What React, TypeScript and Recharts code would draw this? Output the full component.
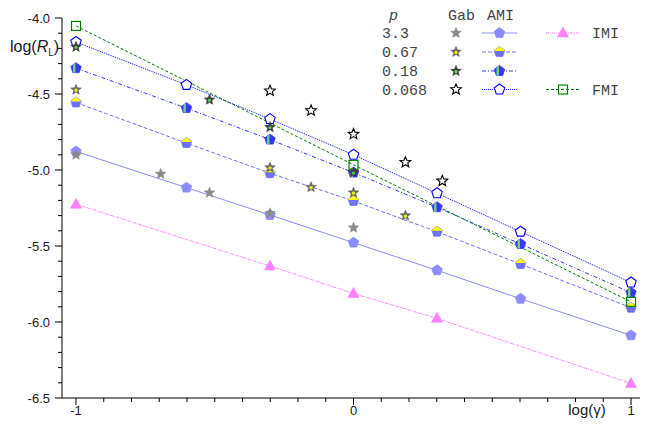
import React from 'react';
import { ComposedChart, Line, Scatter, XAxis, YAxis } from 'recharts';

// ---------- data ----------
const amiX = [-1, -0.602, -0.301, 0, 0.301, 0.602, 1];
const ami33 = [-4.878, -5.116, -5.296, -5.478, -5.66, -5.847, -6.088];
const ami067 = [-4.556, -4.823, -5.021, -5.204, -5.406, -5.619, -5.906];
const ami018 = [-4.33, -4.593, -4.8, -5.017, -5.245, -5.487, -5.807];
const ami0068 = [-4.158, -4.44, -4.665, -4.9, -5.153, -5.406, -5.74];

const imiX = [-1, -0.301, 0, 0.301, 1];
const imiY = [-5.225, -5.632, -5.812, -5.976, -6.404];

const fmiX = [-1, 0, 1];
const fmiY = [-4.052, -4.966, -5.867];

const gab33X = [-1, -0.695, -0.519, -0.301, 0];
const gab33Y = [-4.9, -5.026, -5.149, -5.285, -5.38];
const gab067X = [-1, -0.301, -0.153, 0, 0.187];
const gab067Y = [-4.472, -4.984, -5.113, -5.149, -5.3];
const gab018X = [-1, -0.519, -0.301, 0];
const gab018Y = [-4.19, -4.538, -4.718, -5.017];
const gab0068X = [-0.301, -0.153, 0, 0.187, 0.32];
const gab0068Y = [-4.479, -4.609, -4.764, -4.949, -5.072];

const pLabels = ['3.3', '0.67', '0.18', '0.068'];
const yMajorTicks = [-6.5, -6.0, -5.5, -5.0, -4.5, -4.0];
const xMajorTicks = [-1, 0, 1];

const toPts = (xs: number[], ys: number[]) => xs.map((x, i) => ({ x, y: ys[i] }));

// minor tick positions (every 0.1)
const yTicks: number[] = [];
for (let i = 0; i <= 25; i++) yTicks.push(Math.round((-6.5 + i * 0.1) * 10) / 10);
const xTicks: number[] = [];
for (let i = 0; i <= 20; i++) xTicks.push(Math.round((-1 + i * 0.1) * 10) / 10);

// ---------- colors ----------
const C33 = '#8c8cff';
const C067 = '#7070ff';
const C018 = '#3636ff';
const C0068 = '#0000ff';
const CIMI = '#ff80ff';
const CFMI = '#008000';
const LEG = '#444';

// ---------- shapes ----------
const R = 5.5;
const pentPts = (cx: number, cy: number, r: number) => {
  const pts: string[] = [];
  for (let k = 0; k < 5; k++) {
    const a = ((-90 + 72 * k) * Math.PI) / 180;
    pts.push(`${cx + r * Math.cos(a)},${cy + r * Math.sin(a)}`);
  }
  return pts.join(' ');
};
const starPts = (cx: number, cy: number, r: number, ri: number) => {
  const pts: string[] = [];
  for (let k = 0; k < 10; k++) {
    const a = ((-90 + 36 * k) * Math.PI) / 180;
    const rr = k % 2 === 0 ? r : ri;
    pts.push(`${cx + rr * Math.cos(a)},${cy + rr * Math.sin(a)}`);
  }
  return pts.join(' ');
};
const poly = (cx: number, cy: number, r: number, arr: number[][]) =>
  arr.map(([a, b]) => `${cx + a * r},${cy + b * r}`).join(' ');

function Pentagon({ cx, cy, kind }: { cx: number; cy: number; kind: string }) {
  if (cx == null || cy == null) return null;
  if (kind === '33') return <polygon points={pentPts(cx, cy, R)} fill={C33} stroke={C33} strokeWidth={0.8} />;
  if (kind === '067')
    return (
      <g>
        <polygon points={pentPts(cx, cy, R)} fill={C067} stroke={C067} strokeWidth={0.8} />
        <polygon
          points={poly(cx, cy, R, [[0, -1], [0.951, -0.309], [0.913, -0.19], [-0.913, -0.19], [-0.951, -0.309]])}
          fill="#ffff00"
        />
      </g>
    );
  if (kind === '018')
    return (
      <g>
        <polygon points={pentPts(cx, cy, R)} fill={C018} stroke={C018} strokeWidth={0.8} />
        <polygon points={poly(cx, cy, R, [[-0.55, -0.6], [-0.1, -0.91], [-0.1, 0.8], [-0.55, 0.8]])} fill="#6fd36f" />
      </g>
    );
  return <polygon points={pentPts(cx, cy, R)} fill="#ffffff" stroke={C0068} strokeWidth={1.1} />;
}

function Star({ cx, cy, kind }: { cx: number; cy: number; kind: string }) {
  if (cx == null || cy == null) return null;
  const sr = 5.6;
  const si = 2.5;
  if (kind === '33') return <polygon points={starPts(cx, cy, sr, si)} fill="#8a8a8a" stroke="#8a8a8a" strokeWidth={0.5} />;
  if (kind === '067')
    return (
      <g>
        <polygon points={starPts(cx, cy, sr, si)} fill="#6a6a6a" stroke="#5a5a5a" strokeWidth={0.5} />
        <polygon points={pentPts(cx, cy + 0.5, 1.9)} fill="#f0f000" />
      </g>
    );
  if (kind === '018')
    return (
      <g>
        <polygon points={starPts(cx, cy, sr, si)} fill="#404040" stroke="#333" strokeWidth={0.5} />
        <polygon points={pentPts(cx, cy + 0.5, 1.7)} fill="#5fd35f" />
      </g>
    );
  return <polygon points={starPts(cx, cy, sr, si)} fill="#ffffff" stroke="#000" strokeWidth={1.1} />;
}

function Triangle({ cx, cy }: { cx: number; cy: number }) {
  if (cx == null || cy == null) return null;
  return <polygon points={`${cx},${cy - 6} ${cx + 5.5},${cy + 4} ${cx - 5.5},${cy + 4}`} fill={CIMI} stroke={CIMI} strokeWidth={0.6} />;
}
function Square({ cx, cy }: { cx: number; cy: number }) {
  if (cx == null || cy == null) return null;
  return <rect x={cx - 4.5} y={cy - 4.5} width={9} height={9} fill="none" stroke={CFMI} strokeWidth={1.2} />;
}

const pentShape = (kind: string) => (p: any) => <Pentagon cx={p.cx} cy={p.cy} kind={kind} />;
const starShape = (kind: string) => (p: any) => <Star cx={p.cx} cy={p.cy} kind={kind} />;

const SANS = '"Liberation Sans", Arial, sans-serif';
const MONO = '"Liberation Mono", "Courier New", monospace';

const YTick = (p: any) => {
  const v = p.payload.value;
  const major = yMajorTicks.some((m) => Math.abs(m - v) < 1e-6);
  return (
    <g>
      <line x1={p.x - (major ? 7 : 4)} x2={p.x} y1={p.y} y2={p.y} stroke="#000" strokeWidth={1} />
      {major && (
        <text x={p.x - 12} y={p.y} dy="0.36em" textAnchor="end" fontFamily={SANS} fontSize={13} fill="#1a1a1a">
          {v.toFixed(1)}
        </text>
      )}
    </g>
  );
};
const XTick = (p: any) => {
  const v = p.payload.value;
  const major = xMajorTicks.some((m) => Math.abs(m - v) < 1e-6);
  return (
    <g>
      <line x1={p.x} x2={p.x} y1={p.y} y2={p.y + (major ? 7 : 4)} stroke="#000" strokeWidth={1} />
      {major && (
        <text x={p.x} y={p.y + 17} textAnchor="middle" fontFamily={SANS} fontSize={13} fill="#1a1a1a">
          {String(v)}
        </text>
      )}
    </g>
  );
};

const lineProps = { dataKey: 'y', dot: false, activeDot: false, isAnimationActive: false, strokeWidth: 1 } as any;

export default function App() {
  const rowY = [38, 57, 76, 94.5];
  const amiKinds = ['33', '067', '018', '0068'];
  const amiLineStyles = [
    { stroke: C33, dash: undefined },
    { stroke: C067, dash: '4 2' },
    { stroke: C018, dash: '4 2 1 2' },
    { stroke: C0068, dash: '1 1' },
  ];
  return (
    <div style={{ position: 'absolute', left: 0, top: 0, width: 645, height: 425, background: '#fff' }}>
      <ComposedChart width={645} height={425} margin={{ top: 18, right: 5, bottom: 0, left: 0 }}>
        <XAxis
          type="number"
          dataKey="x"
          domain={[-1.0505, 1.0324]}
          allowDataOverflow
          ticks={xTicks}
          interval={0}
          tick={<XTick />}
          tickLine={false}
          tickSize={0}
          tickMargin={0}
          height={27}
          axisLine={{ stroke: '#000', strokeWidth: 1 }}
        />
        <YAxis
          type="number"
          dataKey="y"
          domain={[-6.5, -4.0]}
          allowDataOverflow
          ticks={yTicks}
          interval={0}
          tick={<YTick />}
          tickLine={false}
          tickSize={0}
          tickMargin={0}
          width={62}
          axisLine={{ stroke: '#000', strokeWidth: 1 }}
        />
        <Line {...lineProps} data={toPts(imiX, imiY)} stroke={CIMI} strokeDasharray="3 1 1 1" />
        <Line {...lineProps} data={toPts(amiX, ami33)} stroke={C33} />
        <Line {...lineProps} data={toPts(amiX, ami067)} stroke={C067} strokeDasharray="4 2" />
        <Line {...lineProps} data={toPts(amiX, ami018)} stroke={C018} strokeDasharray="4 2 1 2" />
        <Line {...lineProps} data={toPts(amiX, ami0068)} stroke={C0068} strokeDasharray="1 1" />
        <Line {...lineProps} data={toPts(fmiX, fmiY)} stroke={CFMI} strokeDasharray="3 2" />

        <Scatter data={toPts(imiX, imiY)} isAnimationActive={false} shape={(p: any) => <Triangle cx={p.cx} cy={p.cy} />} />
        <Scatter data={toPts(amiX, ami33)} isAnimationActive={false} shape={pentShape('33')} />
        <Scatter data={toPts(amiX, ami067)} isAnimationActive={false} shape={pentShape('067')} />
        <Scatter data={toPts(amiX, ami018)} isAnimationActive={false} shape={pentShape('018')} />
        <Scatter data={toPts(amiX, ami0068)} isAnimationActive={false} shape={pentShape('0068')} />
        <Scatter data={toPts(fmiX, fmiY)} isAnimationActive={false} shape={(p: any) => <Square cx={p.cx} cy={p.cy} />} />

        <Scatter data={toPts(gab33X, gab33Y)} isAnimationActive={false} shape={starShape('33')} />
        <Scatter data={toPts(gab067X, gab067Y)} isAnimationActive={false} shape={starShape('067')} />
        <Scatter data={toPts(gab018X, gab018Y)} isAnimationActive={false} shape={starShape('018')} />
        <Scatter data={toPts(gab0068X, gab0068Y)} isAnimationActive={false} shape={starShape('0068')} />
      </ComposedChart>

      <svg width={645} height={425} style={{ position: 'absolute', left: 0, top: 0, pointerEvents: 'none' }}>
        {/* axis titles */}
        <text x={10} y={52} fontFamily={SANS} fontSize={16} fill="#1a1a1a">
          log(<tspan fontStyle="italic">R</tspan>
          <tspan fontSize={10} dy={4}>L</tspan>
          <tspan dy={-4}>)</tspan>
        </text>
        <text x={587} y={415} textAnchor="middle" fontFamily={SANS} fontSize={15} fill="#1a1a1a">
          log(γ)
        </text>

        {/* legend */}
        <text x={389} y={20} fontFamily={MONO} fontSize={15} fontStyle="italic" fill={LEG}>p</text>
        <text x={448} y={20} fontFamily={MONO} fontSize={15} fill={LEG}>Gab</text>
        <text x={487} y={20} fontFamily={MONO} fontSize={15} fill={LEG}>AMI</text>
        {pLabels.map((lab, i) => (
          <g key={lab}>
            <text x={382} y={rowY[i]} fontFamily={MONO} fontSize={15} fill={LEG}>{lab}</text>
            <Star cx={456} cy={rowY[i] - 5} kind={amiKinds[i]} />
            <line
              x1={482}
              x2={517}
              y1={rowY[i] - 5}
              y2={rowY[i] - 5}
              stroke={amiLineStyles[i].stroke}
              strokeDasharray={amiLineStyles[i].dash}
              strokeWidth={1}
            />
            <Pentagon cx={499.5} cy={rowY[i] - 5} kind={amiKinds[i]} />
          </g>
        ))}
        <line x1={546} x2={580} y1={rowY[0] - 5} y2={rowY[0] - 5} stroke={CIMI} strokeDasharray="3 1 1 1" />
        <Triangle cx={563} cy={rowY[0] - 5} />
        <text x={592} y={rowY[0]} fontFamily={MONO} fontSize={15} fill={LEG}>IMI</text>
        <line x1={546} x2={580} y1={rowY[3] - 5} y2={rowY[3] - 5} stroke={CFMI} strokeDasharray="3 2" />
        <Square cx={563} cy={rowY[3] - 5} />
        <text x={592} y={rowY[3]} fontFamily={MONO} fontSize={15} fill={LEG}>FMI</text>
      </svg>
    </div>
  );
}
